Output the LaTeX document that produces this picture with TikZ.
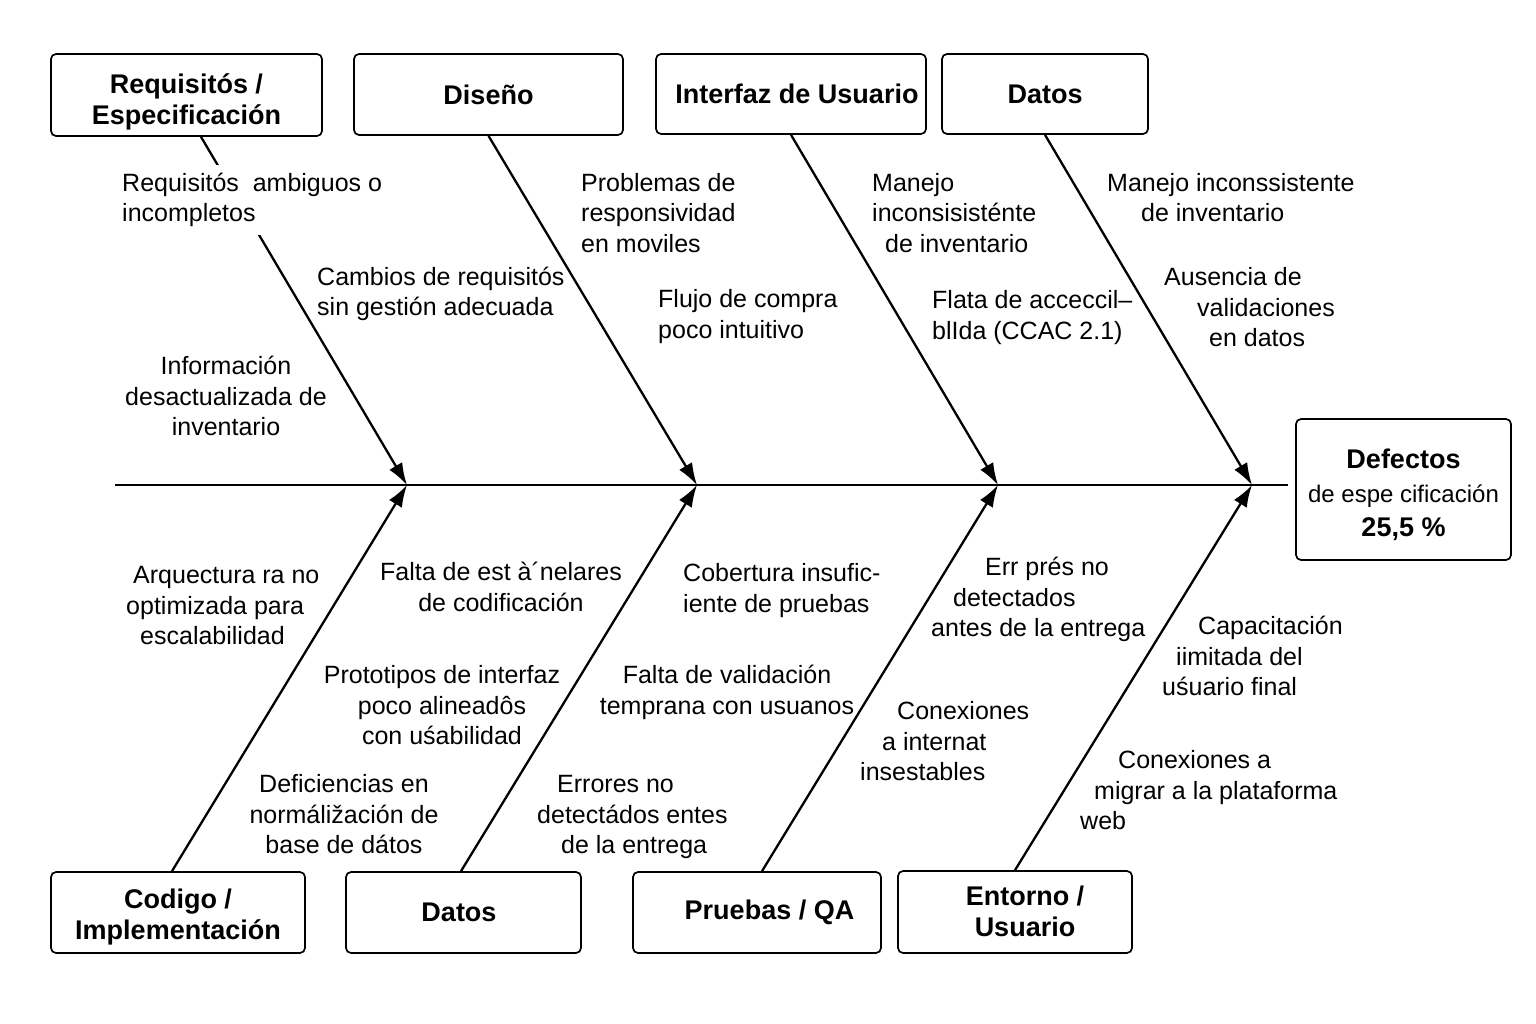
\documentclass[tikz,border=0pt]{standalone}
\usepackage{fontspec}
\setmainfont{Liberation Sans}
\usetikzlibrary{arrows.meta}
\tikzset{
  box/.style={draw, line width=1.7pt, rounded corners=5pt, align=center, inner sep=0pt,
    font=\bfseries\fontsize{27}{31}\selectfont},
  lbl/.style={font=\fontsize{25}{30.5}\selectfont, inner sep=0pt},
  lblw/.style={lbl, fill=white, inner ysep=8pt},
  bone/.style={line width=2.3pt, -{Latex[length=22pt,width=15pt]}},
  spine/.style={line width=2.3pt}
}
\begin{document}
\begin{tikzpicture}[x=1pt,y=-1pt]
\useasboundingbox (0,0) rectangle (1536,1024);
% category boxes
\node[box, minimum width=271pt, minimum height=82pt, text height=59.4pt, text depth=0pt] (req) at (186.5,95) {Requisitós /\\Especificación};
\node[box, minimum width=269pt, minimum height=81pt] (dis) at (488.5,94.5) {Diseño};
\node[box, minimum width=270pt, minimum height=80pt] (ui) at (791,94) {\hspace*{12pt}Interfaz de Usuario};
\node[box, minimum width=206pt, minimum height=80pt] (dat1) at (1045,94) {Datos};
\node[box, minimum width=254pt, minimum height=81pt, text height=54.4pt, text depth=0pt] (cod) at (178,912.5) {Codigo /\\Implementación};
\node[box, minimum width=235pt, minimum height=81pt] (dat2) at (463.5,912.5) {Datos\hspace*{9pt}};
\node[box, minimum width=248pt, minimum height=81pt] (pru) at (757,912.5) {\hspace*{25pt}Pruebas / QA};
\node[box, minimum width=234pt, minimum height=82pt, text height=49.4pt, text depth=0pt] (ent) at (1015,912) {\hspace*{20pt}Entorno /\\\hspace*{20pt}Usuario};
% effect
\node[box, minimum width=215pt, minimum height=141pt, font=\fontsize{27}{34}\selectfont, text height=94.4pt, text depth=0pt] (eff) at (1403.5,489.5)
  {\textbf{Defectos}\\{\fontsize{24}{34}\selectfont de espe cificación}\\\textbf{25,5 \%}};
% spine
\coordinate (tail) at (115,485);
\coordinate (j1) at (407,485);
\coordinate (j2) at (697,485);
\coordinate (j3) at (998,485);
\coordinate (j4) at (1252,485);
\draw[spine, shorten >=7pt] (tail) -- (tail -| eff.west);
% bones
\draw[bone] ([xshift=14.5pt]req.south) -- (j1);
\draw[bone] (dis.south) -- (j2);
\draw[bone] (ui.south) -- (j3);
\draw[bone] (dat1.south) -- (j4);
\draw[bone] ([xshift=-6pt]cod.north) -- (j1);
\draw[bone] ([xshift=-2.5pt]dat2.north) -- (j2);
\draw[bone] ([xshift=5pt]pru.north) -- (j3);
\draw[bone] (ent.north) -- (j4);
% labels top
\node[lblw, align=left, anchor=base west] (t1) at (122,222) {Requisitós~ ambiguos o\\incompletos};
\node[lbl, align=left, anchor=base west] (t2) at (317,316) {Cambios de requisitós\\sin gestión adecuada};
\node[lbl, align=center, anchor=base] (t3) at (226,435.5) {Información\\desactualizada de\\inventario};
\node[lbl, align=left, anchor=base west] (t4) at (581,252.5) {Problemas de\\responsividad\\en moviles};
\node[lbl, align=left, anchor=base west] (t5) at (658,338) {Flujo de compra\\poco intuitivo};
\node[lbl, align=left, anchor=base west] (t6) at (872,252.5) {Manejo\\inconsisisténte\\\hspace*{13pt}de inventario};
\node[lbl, align=left, anchor=base west] (t7) at (932,339) {Flata de acceccil–\\blIda (CCAC 2.1)};
\node[lbl, align=left, anchor=base west] (t8) at (1107,222) {Manejo inconssistente\\\hspace*{34pt}de inventario};
\node[lbl, align=left, anchor=base west] (t9) at (1164,346.5) {Ausencia de\\\hspace*{33pt}validaciones\\\hspace*{45pt}en datos};
% labels bottom
\node[lbl, align=left, anchor=base west] (b1) at (126,644.5) {\hspace*{7pt}Arquectura ra no\\optimizada para\\\hspace*{14pt}escalabilidad};
\node[lbl, align=center, anchor=base] (b2) at (501,611) {Falta de est à´nelares\\de codificación};
\node[lbl, align=center, anchor=base] (b3) at (442,744.5) {Prototipos de interfaz\\poco alineadôs\\con uśabilidad};
\node[lbl, align=center, anchor=base] (b4) at (344,853.5) {Deficiencias en\\normáližación de\\base de dátos};
\node[lbl, align=left, anchor=base west] (b5) at (683,612) {Cobertura insufic-\\iente de pruebas};
\node[lbl, align=center, anchor=base] (b6) at (727,714) {Falta de validación\\temprana con usuanos};
\node[lbl, align=left, anchor=base west] (b7) at (537,853.5) {\hspace*{20pt}Errores no\\detectádos entes\\\hspace*{24pt}de la entrega};
\node[lbl, align=left, anchor=base west] (b8) at (931,636.5) {\hspace*{54pt}Err prés no\\\hspace*{22pt}detectados\\antes de la entrega};
\node[lbl, align=left, anchor=base west] (b9) at (860,780.5) {\hspace*{37pt}Conexiones\\\hspace*{22pt}a internat\\insestables};
\node[lbl, align=left, anchor=base west] (b10) at (1162,695.5) {\hspace*{36pt}Capacitación\\\hspace*{14pt}iimitada del\\uśuario final};
\node[lbl, align=left, anchor=base west] (b11) at (1080,829.5) {\hspace*{38pt}Conexiones a\\\hspace*{14pt}migrar a la plataforma\\web};
\end{tikzpicture}
\end{document}
